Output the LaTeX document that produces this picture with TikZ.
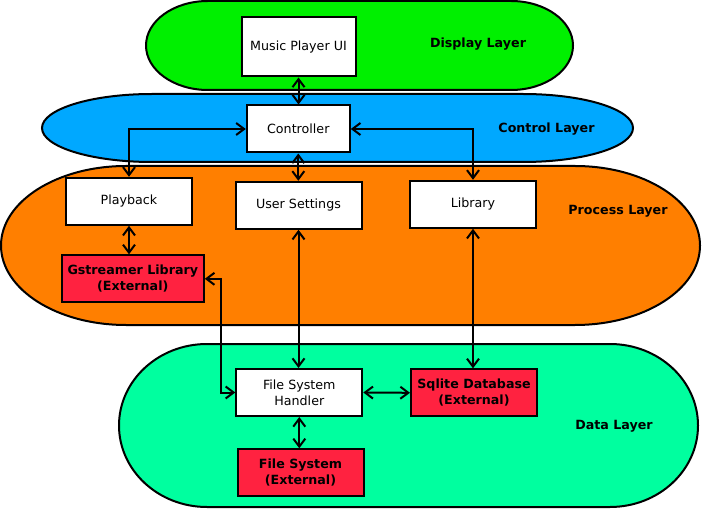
\documentclass[tikz,border=0pt]{standalone}
\usepackage{fontspec}
\setmainfont{DejaVu Sans}
\usepackage{tikz}
\usetikzlibrary{arrows.meta,calc,positioning}

\definecolor{displaygreen}{HTML}{00F000}
\definecolor{controlblue}{HTML}{00A8FF}
\definecolor{processorange}{HTML}{FF7F00}
\definecolor{datagreen}{HTML}{00FF9F}
\definecolor{extred}{HTML}{FF2240}

% layer: x1, y1, x2, y2, end radius, colour
\newcommand{\layerblob}[6]{%
  \pgfmathsetmacro{\lry}{(#4-#2)/2}
  \filldraw[layer,fill=#6] (#1+#5,#2) -- (#3-#5,#2)
    arc[start angle=270,end angle=450,x radius=#5,y radius=\lry]
    -- (#1+#5,#4)
    arc[start angle=90,end angle=270,x radius=#5,y radius=\lry] -- cycle;}

\begin{document}
\begin{tikzpicture}[x=0.75pt,y=-0.75pt,font=\fontsize{9.5}{12}\selectfont,
	layer/.style={line width=1.5pt},
	box/.style={draw,line width=1.5pt,fill=white,minimum width=94.5pt,minimum height=35.25pt,inner sep=0pt,align=center},
	extbox/.style={box,fill=extred,font=\fontsize{9.5}{12}\selectfont\bfseries},
	layertext/.style={font=\fontsize{9.5}{12}\selectfont\bfseries},
	link/.style={line width=1.5pt,{Straight Barb[length=6pt,width=9pt]}-{Straight Barb[length=6pt,width=9pt]}}]
	\useasboundingbox (0,0) rectangle (702,509);

	\layerblob{146}{1}{573}{90}{62}{displaygreen}
	\layerblob{42}{94}{633}{162}{110}{controlblue}
	\layerblob{1}{166}{700}{325}{125}{processorange}
	\layerblob{119}{344}{698}{507}{88}{datagreen}

	\node[layertext] at (478,44) {Display Layer};
	\node[layertext] at (546.5,129.5) {Control Layer};
	\node[layertext] at (618,211) {Process Layer};
	\node[layertext] at (614,426) {Data Layer};

	\node (ui) at (298.5,47) [box,minimum width=85.5pt,minimum height=44.25pt] {Music Player UI};
	\node (ctrl) at (298.3,129) [box,minimum width=77.25pt] {Controller};
	\node (play) at (129,201.3) [box] {Playback};
	\node (usr) at (298.5,205.3) [box] {User Settings};
	\node (lib) at (473,204.3) [box] {Library};
	\node (gst) at (132.8,278.8) [extbox,minimum width=106.5pt] {Gstreamer Library\\(External)};
	\node (fsh) at (299.3,392.5) [box] {File System\\Handler};
	\node (sql) at (474,392.8) [extbox] {Sqlite Database\\(External)};
	\node (fs) at (300.5,472.8) [extbox] {File System\\(External)};

	\coordinate (gbend) at (221,392.5);

	\draw[link] (ui.south) -- (ui.south |- ctrl.north);
	\draw[link] (ctrl.west) -| (play.north);
	\draw[link] (ctrl.east) -| (lib.north);
	\draw[link] (ctrl.south) -- (ctrl.south |- usr.north);
	\draw[link] (play.south) -- (play.south |- gst.north);
	\draw[link] (usr.south) -- (usr.south |- fsh.north);
	\draw[link] (lib.south) -- (lib.south |- sql.north);
	\draw[link] (gst.east) -| (gbend) -- (fsh.west);
	\draw[link] (fsh.east) -- (sql.west);
	\draw[link] (fsh.south) -- (fsh.south |- fs.north);
\end{tikzpicture}
\end{document}
